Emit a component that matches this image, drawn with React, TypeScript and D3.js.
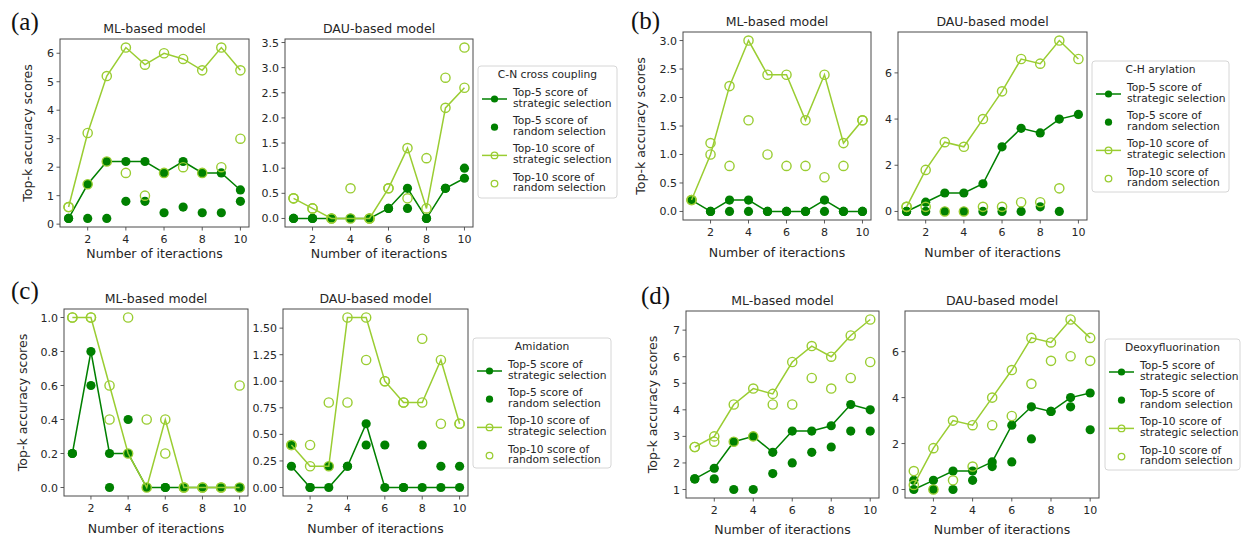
import React from 'react';
import * as d3 from 'd3';

// Iteration index shared by every subplot
const iterations = [1, 2, 3, 4, 5, 6, 7, 8, 9, 10];
const xTicks = [2, 4, 6, 8, 10];

// (a) C-N cross coupling — ML-based model
const cnMlTop5Strategic = [0.2, 1.4, 2.2, 2.2, 2.2, 1.8, 2.2, 1.8, 1.8, 1.2];
const cnMlTop5Random = [0.2, 0.2, 0.2, 0.8, 0.8, 0.4, 0.6, 0.4, 0.4, 0.8];
const cnMlTop10Strategic = [0.6, 3.2, 5.2, 6.2, 5.6, 6.0, 5.8, 5.4, 6.2, 5.4];
const cnMlTop10Random = [0.6, 1.4, 2.2, 1.8, 1.0, 1.8, 2.0, 1.8, 2.0, 3.0];
// (a) C-N cross coupling — DAU-based model
const cnDauTop5Strategic = [0, 0, 0, 0, 0, 0.2, 0.6, 0, 0.6, 0.8];
const cnDauTop5Random = [0, 0, 0, 0, 0, 0.2, 0.2, 0, 0.6, 1.0];
const cnDauTop10Strategic = [0.4, 0.2, 0, 0, 0, 0.6, 1.4, 0.2, 2.2, 2.6];
const cnDauTop10Random = [0.4, 0.2, 0, 0.6, 0, 0.6, 0.4, 1.2, 2.8, 3.4];

// (b) C-H arylation — ML-based model
const chMlTop5Strategic = [0.2, 0, 0.2, 0.2, 0, 0, 0, 0.2, 0, 0];
const chMlTop5Random = [0.2, 0, 0, 0, 0, 0, 0, 0, 0, 0];
const chMlTop10Strategic = [0.2, 1.0, 2.2, 3.0, 2.4, 2.4, 1.6, 2.4, 1.2, 1.6];
const chMlTop10Random = [0.2, 1.2, 0.8, 1.6, 1.0, 0.8, 0.8, 0.6, 0.8, 1.6];
// (b) C-H arylation — DAU-based model
const chDauTop5Strategic = [0, 0.4, 0.8, 0.8, 1.2, 2.8, 3.6, 3.4, 4.0, 4.2];
const chDauTop5Random = [0, 0, 0, 0, 0, 0, 0, 0.2, 0];
const chDauTop10Strategic = [0.2, 1.8, 3.0, 2.8, 4.0, 5.2, 6.6, 6.4, 7.4, 6.6];
const chDauTop10Random = [0.2, 0.2, 0, 0, 0.2, 0.2, 0.4, 0.4, 1.0];

// (c) Amidation — ML-based model
const amMlTop5Strategic = [0.2, 0.8, 0.2, 0.2, 0, 0, 0, 0, 0, 0];
const amMlTop5Random = [0.2, 0.6, 0, 0.4, 0, 0, 0, 0, 0, 0];
const amMlTop10Strategic = [1.0, 1.0, 0.6, 0.2, 0, 0.4, 0, 0, 0, 0];
const amMlTop10Random = [1.0, 1.0, 0.4, 1.0, 0.4, 0.2, 0, 0, 0, 0.6];
// (c) Amidation — DAU-based model
const amDauTop5Strategic = [0.2, 0, 0, 0.2, 0.6, 0, 0, 0, 0, 0];
const amDauTop5Random = [0.4, 0, 0.2, 0.2, 0.4, 0.4, 0, 0.4, 0.2, 0.2];
const amDauTop10Strategic = [0.4, 0.2, 0.2, 1.6, 1.6, 1.0, 0.8, 0.8, 1.2, 0.6];
const amDauTop10Random = [0.4, 0.4, 0.8, 0.8, 1.2, 1.0, 0.8, 1.4, 0.6, 0.6];

// (d) Deoxyfluorination — ML-based model
const dfMlTop5Strategic = [1.4, 1.8, 2.8, 3.0, 2.4, 3.2, 3.2, 3.4, 4.2, 4.0];
const dfMlTop5Random = [1.4, 1.4, 1.0, 1.0, 1.6, 2.0, 2.4, 2.6, 3.2, 3.2];
const dfMlTop10Strategic = [2.6, 3.0, 4.2, 4.8, 4.6, 5.8, 6.4, 6.0, 6.8, 7.4];
const dfMlTop10Random = [2.6, 2.8, 2.8, 3.0, 4.2, 4.2, 5.2, 4.8, 5.2, 5.8];
// (d) Deoxyfluorination — DAU-based model
const dfDauTop5Strategic = [0, 0.4, 0.8, 0.8, 1.2, 2.8, 3.6, 3.4, 4.0, 4.2];
const dfDauTop5Random = [0.4, 0, 0, 0.4, 1.0, 1.2, 2.2, 3.4, 3.6, 2.6];
const dfDauTop10Strategic = [0.2, 1.8, 3.0, 2.8, 4.0, 5.2, 6.6, 6.4, 7.4, 6.6];
const dfDauTop10Random = [0.8, 0, 0.4, 1.0, 2.8, 3.2, 4.6, 5.6, 5.8, 5.6];

// Y tick labels per subplot
const cnMlTicks = [0, 1, 2, 3, 4, 5, 6];
const cnDauTicks = [0, 0.5, 1.0, 1.5, 2.0, 2.5, 3.0, 3.5];
const chMlTicks = [0, 0.5, 1.0, 1.5, 2.0, 2.5, 3.0];
const chDauTicks = [0, 2, 4, 6];
const amMlTicks = [0, 0.2, 0.4, 0.6, 0.8, 1.0];
const amDauTicks = [0, 0.25, 0.5, 0.75, 1.0, 1.25, 1.5];
const dfMlTicks = [1, 2, 3, 4, 5, 6, 7];
const dfDauTicks = [0, 2, 4, 6];

const legendLabels = [
  ['Top-5 score of', 'strategic selection'],
  ['Top-5 score of', 'random selection'],
  ['Top-10 score of', 'strategic selection'],
  ['Top-10 score of', 'random selection'],
];

const DARK = '#008000';
const LIGHT = '#9acd32';
const SPINE = '#4a4a4a';
const TEXT = '#262626';
const SANS = '"DejaVu Sans", "Noto Sans", sans-serif';
const SERIF = '"Liberation Serif", "DejaVu Serif", serif';
const R = 4.6;

type Box = { l: number; t: number; r: number; b: number };
type Series = { s5: number[]; r5: number[]; s10: number[]; r10: number[] };
type AxesSpec = { title: string; box: Box; data: Series; ticks: number[]; fmt: (v: number) => string };
type PanelSpec = {
  tag: string;
  tagPos: [number, number];
  legendTitle: string;
  legend: { l: number; t: number; w: number; h: number };
  yLabelGap: number;
  xLabelGap: number;
  axes: AxesSpec[];
};

const f0 = d3.format('d');
const f1 = d3.format('.1f');
const f2 = d3.format('.2f');

const panels: PanelSpec[] = [
  {
    tag: '(a)', tagPos: [11, 30], legendTitle: 'C-N cross coupling',
    legend: { l: 478, t: 66, w: 139, h: 132 }, yLabelGap: 28, xLabelGap: 31,
    axes: [
      { title: 'ML-based model', box: { l: 60, t: 39, r: 249, b: 227 },
        data: { s5: cnMlTop5Strategic, r5: cnMlTop5Random, s10: cnMlTop10Strategic, r10: cnMlTop10Random }, ticks: cnMlTicks, fmt: f0 },
      { title: 'DAU-based model', box: { l: 285, t: 39, r: 473, b: 227 },
        data: { s5: cnDauTop5Strategic, r5: cnDauTop5Random, s10: cnDauTop10Strategic, r10: cnDauTop10Random }, ticks: cnDauTicks, fmt: f1 },
    ],
  },
  {
    tag: '(b)', tagPos: [631, 29], legendTitle: 'C-H arylation',
    legend: { l: 1092, t: 61, w: 137, h: 131 }, yLabelGap: 38, xLabelGap: 37,
    axes: [
      { title: 'ML-based model', box: { l: 683, t: 32, r: 871, b: 220 },
        data: { s5: chMlTop5Strategic, r5: chMlTop5Random, s10: chMlTop10Strategic, r10: chMlTop10Random }, ticks: chMlTicks, fmt: f1 },
      { title: 'DAU-based model', box: { l: 898, t: 32, r: 1087, b: 220 },
        data: { s5: chDauTop5Strategic, r5: chDauTop5Random, s10: chDauTop10Strategic, r10: chDauTop10Random }, ticks: chDauTicks, fmt: f0 },
    ],
  },
  {
    tag: '(c)', tagPos: [11, 299], legendTitle: 'Amidation',
    legend: { l: 473, t: 338, w: 138, h: 130 }, yLabelGap: 37, xLabelGap: 37,
    axes: [
      { title: 'ML-based model', box: { l: 64, t: 309, r: 248, b: 496 },
        data: { s5: amMlTop5Strategic, r5: amMlTop5Random, s10: amMlTop10Strategic, r10: amMlTop10Random }, ticks: amMlTicks, fmt: f1 },
      { title: 'DAU-based model', box: { l: 283, t: 309, r: 468, b: 496 },
        data: { s5: amDauTop5Strategic, r5: amDauTop5Random, s10: amDauTop10Strategic, r10: amDauTop10Random }, ticks: amDauTicks, fmt: f2 },
    ],
  },
  {
    tag: '(d)', tagPos: [641, 304], legendTitle: 'Deoxyfluorination',
    legend: { l: 1105, t: 339, w: 135, h: 131 }, yLabelGap: 29, xLabelGap: 36,
    axes: [
      { title: 'ML-based model', box: { l: 686, t: 311, r: 879, b: 498 },
        data: { s5: dfMlTop5Strategic, r5: dfMlTop5Random, s10: dfMlTop10Strategic, r10: dfMlTop10Random }, ticks: dfMlTicks, fmt: f0 },
      { title: 'DAU-based model', box: { l: 905, t: 311, r: 1099, b: 498 },
        data: { s5: dfDauTop5Strategic, r5: dfDauTop5Random, s10: dfDauTop10Strategic, r10: dfDauTop10Random }, ticks: dfDauTicks, fmt: f0 },
    ],
  },
];

function Subplot({ spec, yLabelGap, xLabelGap, showYLabel }: { spec: AxesSpec; yLabelGap: number; xLabelGap: number; showYLabel: boolean }) {
  const { box, data } = spec;
  const x = d3.scaleLinear().domain([0.55, 10.45]).range([box.l, box.r]);
  const all = [...data.s5, ...data.r5, ...data.s10, ...data.r10];
  const [mn, mx] = d3.extent(all) as [number, number];
  const pad = (mx - mn) * 0.05;
  const y = d3.scaleLinear().domain([mn - pad, mx + pad]).range([box.b, box.t]);
  const line = d3.line<number>().x((_, i) => x(iterations[i])).y((d) => y(d));
  const cx = (box.l + box.r) / 2;
  const cy = (box.t + box.b) / 2;
  return (
    <g>
      {/* top-5 strategic: line with filled markers */}
      <path d={line(data.s5) || ''} fill="none" stroke={DARK} strokeWidth={1.5} />
      {data.s5.map((v, i) => (
        <circle key={'s5' + i} cx={x(iterations[i])} cy={y(v)} r={R} fill={DARK} />
      ))}
      {/* top-5 random: filled scatter */}
      {data.r5.map((v, i) => (
        <circle key={'r5' + i} cx={x(iterations[i])} cy={y(v)} r={R} fill={DARK} />
      ))}
      {/* top-10 strategic: line with hollow markers */}
      <path d={line(data.s10) || ''} fill="none" stroke={LIGHT} strokeWidth={1.5} />
      {data.s10.map((v, i) => (
        <circle key={'s10' + i} cx={x(iterations[i])} cy={y(v)} r={R} fill="none" stroke={LIGHT} strokeWidth={1.4} />
      ))}
      {/* top-10 random: hollow scatter */}
      {data.r10.map((v, i) => (
        <circle key={'r10' + i} cx={x(iterations[i])} cy={y(v)} r={R} fill="none" stroke={LIGHT} strokeWidth={1.4} />
      ))}
      <rect x={box.l} y={box.t} width={box.r - box.l} height={box.b - box.t} fill="none" stroke={SPINE} strokeWidth={1} />
      {xTicks.map((t) => (
        <g key={'xt' + t}>
          <line x1={x(t)} x2={x(t)} y1={box.b} y2={box.b + 3.5} stroke={SPINE} strokeWidth={0.9} />
          <text x={x(t)} y={box.b + 16} textAnchor="middle" fontSize={11} fill={TEXT} fontFamily={SANS}>{t}</text>
        </g>
      ))}
      {spec.ticks.map((t) => (
        <g key={'yt' + t}>
          <line x1={box.l - 3.5} x2={box.l} y1={y(t)} y2={y(t)} stroke={SPINE} strokeWidth={0.9} />
          <text x={box.l - 6} y={y(t) + 4} textAnchor="end" fontSize={11} fill={TEXT} fontFamily={SANS}>{spec.fmt(t)}</text>
        </g>
      ))}
      <text x={cx} y={box.t - 6} textAnchor="middle" fontSize={12.5} fill={TEXT} fontFamily={SANS}>{spec.title}</text>
      <text x={cx} y={box.b + xLabelGap} textAnchor="middle" fontSize={12.5} fill={TEXT} fontFamily={SANS}>Number of iteractions</text>
      {showYLabel && (
        <text transform={`translate(${box.l - yLabelGap},${cy}) rotate(-90)`} textAnchor="middle" fontSize={12.5} fill={TEXT} fontFamily={SANS}>
          Top-k accuracy scores
        </text>
      )}
    </g>
  );
}

function Legend({ title, pos }: { title: string; pos: { l: number; t: number; w: number; h: number } }) {
  const hx0 = pos.l + 4;
  const hx1 = pos.l + 29;
  const mx = (hx0 + hx1) / 2;
  return (
    <g fontFamily={SANS}>
      <rect x={pos.l} y={pos.t} width={pos.w} height={pos.h} rx={3} fill="#fff" fillOpacity={0.85} stroke="#d6d6d6" strokeWidth={1} />
      <text x={pos.l + pos.w / 2} y={pos.t + 12} textAnchor="middle" fontSize={10.7} fill={TEXT}>{title}</text>
      {legendLabels.map((lab, i) => {
        const base = pos.t + 30 + i * 28.2;
        const hy = base + 3;
        const dark = i < 2;
        const color = dark ? DARK : LIGHT;
        const hasLine = i % 2 === 0;
        return (
          <g key={i}>
            {hasLine && <line x1={hx0} x2={hx1} y1={hy} y2={hy} stroke={color} strokeWidth={1.5} />}
            {dark ? (
              <circle cx={mx} cy={hy} r={3.6} fill={DARK} />
            ) : (
              <circle cx={mx} cy={hy} r={3.3} fill="none" stroke={LIGHT} strokeWidth={1.3} />
            )}
            <text x={pos.l + 35} y={base} fontSize={10.7} fill={TEXT}>{lab[0]}</text>
            <text x={pos.l + 35} y={base + 10.8} fontSize={10.7} fill={TEXT}>{lab[1]}</text>
          </g>
        );
      })}
    </g>
  );
}

export default function App() {
  return (
    <svg width={1241} height={540} style={{ position: 'absolute', left: 0, top: 0, background: '#fff' }}>
      <rect width={1241} height={540} fill="#fff" />
      {panels.map((p) => (
        <g key={p.tag}>
          <text x={p.tagPos[0]} y={p.tagPos[1]} fontSize={25} fontFamily={SERIF} fill="#111">{p.tag}</text>
          {p.axes.map((a, i) => (
            <Subplot key={a.title} spec={a} yLabelGap={p.yLabelGap} xLabelGap={p.xLabelGap} showYLabel={i === 0} />
          ))}
          <Legend title={p.legendTitle} pos={p.legend} />
        </g>
      ))}
    </svg>
  );
}
